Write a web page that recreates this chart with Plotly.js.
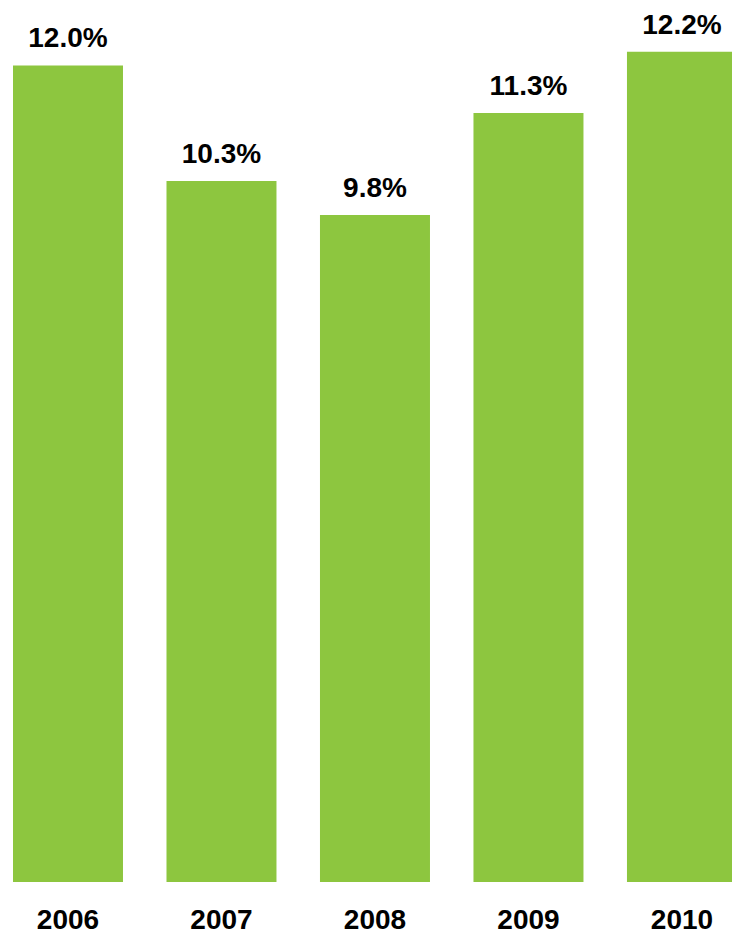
<!DOCTYPE html>
<html>
<head>
<meta charset="utf-8">
<script src="https://cdn.plot.ly/plotly-3.0.1.min.js"></script>
<style>html,body{margin:0;padding:0;background:#fff;}#chart{width:732px;height:936px;}</style>
</head>
<body>
<div id="chart"></div>
<script>
var years = ['2006', '2007', '2008', '2009', '2010'];
var values = [12.0, 10.3, 9.8, 11.3, 12.2];
var labels = ['12.0%', '10.3%', '9.8%', '11.3%', '12.2%'];

var FONT = 'Liberation Sans, Arial, sans-serif';

var bars = {
  type: 'bar',
  x: years,
  y: values,
  marker: {color: '#8DC63F', line: {width: 0}},
  hoverinfo: 'none'
};

var valueText = {
  type: 'scatter',
  mode: 'markers+text',
  x: years,
  y: values,
  text: labels,
  texttemplate: '<b>%{text}</b>',
  textposition: 'top center',
  textfont: {family: FONT, size: 28, color: '#000', weight: 'bold'},
  marker: {size: 16, color: 'rgba(0,0,0,0)'},
  cliponaxis: false,
  hoverinfo: 'none'
};

var layout = {
  width: 732, height: 936,
  margin: {l: 0, r: 0, t: 0, b: 54, pad: 0},
  paper_bgcolor: '#fff', plot_bgcolor: '#fff',
  showlegend: false,
  bargap: 0.2834,
  xaxis: {
    type: 'category',
    range: [-0.443, 4.326],
    showgrid: false, zeroline: false, showline: false,
    ticks: '', ticklabelstandoff: 18,
    tickfont: {family: FONT, size: 28, color: '#000', weight: 'bold'},
    fixedrange: true
  },
  yaxis: {
    range: [0, 12.961],
    showgrid: false, zeroline: false, showline: false,
    showticklabels: false, ticks: '',
    fixedrange: true
  }
};

Plotly.newPlot('chart', [bars, valueText], layout, {displayModeBar: false, staticPlot: true});
</script>
</body>
</html>
